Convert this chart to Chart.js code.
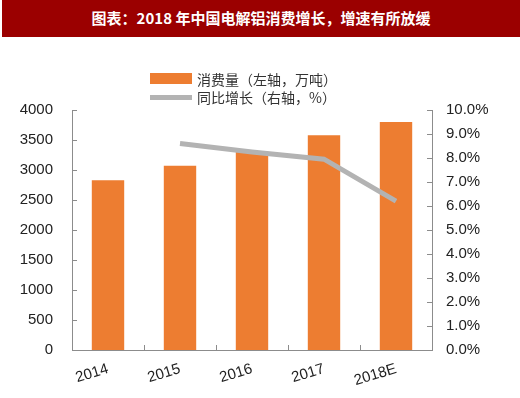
<!DOCTYPE html>
<html>
<head>
<meta charset="utf-8">
<style>
  body { margin: 0; background: #fff; }
  #wrap { position: relative; width: 520px; height: 398px; overflow: hidden; }
  #title {
    position: absolute; left: 2px; top: 0; width: 518px; height: 37px;
    background: #9b0000; color: #fff; text-align: center;
    font: bold 15px "Noto Sans CJK SC", sans-serif; line-height: 35px;
  }
  .leg { position: absolute; left: 150px; font: 14px "Noto Sans CJK SC", sans-serif; color: #333; }
  .leg span { position: absolute; left: 47px; top: -10px; white-space: nowrap; line-height: 20px; }
  #leg1 { top: 79px; }
  #leg1 i { position: absolute; left: 0; top: -6px; width: 42px; height: 11px; background: #ed7d31; }
  #leg2 { top: 97px; }
  #leg2 i { position: absolute; left: 0; top: -2px; width: 42px; height: 5px; background: #b3b3b3; }
  canvas { position: absolute; left: 0; top: 0; }
</style>
</head>
<body>
<div id="wrap">
  <canvas id="chart" width="520" height="398"></canvas>
  <div id="title">图表：2018 年中国电解铝消费增长，增速有所放缓</div>
  <div class="leg" id="leg1"><i></i><span>消费量（左轴，万吨）</span></div>
  <div class="leg" id="leg2"><i></i><span>同比增长（右轴，%）</span></div>
</div>

<script src="https://cdn.jsdelivr.net/npm/chart.js"></script>

<script>
  const years = ['2014', '2015', '2016', '2017', '2018E']
  const consumption = [2830, 3070, 3310, 3580, 3800]   // 万吨
  const growth = [null, 8.6, 8.25, 7.95, 6.2]           // %

  const axisColor = '#8c8c8c'
  const tickFont = { family: 'Liberation Sans', size: 15 }

  // short tick marks pointing into the plot, like the original
  const innerTicks = {
    id: 'innerTicks',
    afterDraw(chart) {
      const c = chart.ctx
      const area = chart.chartArea
      const yl = chart.scales.y
      const yr = chart.scales.y2
      const x = chart.scales.x
      c.save()
      c.strokeStyle = axisColor
      c.lineWidth = 1
      c.beginPath()
      yl.ticks.forEach(t => {
        const p = Math.round(yl.getPixelForValue(t.value)) + 0.5
        c.moveTo(area.left, p); c.lineTo(area.left + 5, p)
      })
      yr.ticks.forEach(t => {
        const p = Math.round(yr.getPixelForValue(t.value)) + 0.5
        c.moveTo(area.right - 5, p); c.lineTo(area.right, p)
      })
      for (let i = 1; i < years.length; i++) {
        const p = Math.round((x.getPixelForValue(i - 1) + x.getPixelForValue(i)) / 2) + 0.5
        c.moveTo(p, area.bottom); c.lineTo(p, area.bottom - 5)
      }
      c.stroke()
      c.restore()
    }
  }

  new Chart(document.getElementById('chart'), {
    data: {
      labels: years,
      datasets: [
        {
          type: 'line',
          label: '同比增长（右轴，%）',
          data: growth,
          yAxisID: 'y2',
          borderColor: '#b3b3b3',
          borderWidth: 5,
          pointRadius: 0,
          tension: 0,
          order: 0
        },
        {
          type: 'bar',
          label: '消费量（左轴，万吨）',
          data: consumption,
          yAxisID: 'y',
          backgroundColor: '#ed7d31',
          barPercentage: 0.45,
          categoryPercentage: 1,
          order: 1
        }
      ]
    },
    options: {
      responsive: false,
      animation: false,
      layout: { padding: { top: 110, left: 0, right: 0, bottom: 0 } },
      plugins: { legend: { display: false }, tooltip: { enabled: false } },
      scales: {
        x: {
          grid: { display: false, drawTicks: false },
          border: { color: axisColor },
          ticks: { color: '#222', font: tickFont, minRotation: 17, maxRotation: 17, padding: 10 },
          afterFit: s => { s.height = 48 }
        },
        y: {
          position: 'left',
          min: 0, max: 4000,
          grid: { display: false, drawTicks: false },
          border: { color: axisColor },
          ticks: { stepSize: 500, color: '#222', font: tickFont, padding: 19,
                   callback: v => String(v) },
          afterFit: s => { s.width = 72 }
        },
        y2: {
          position: 'right',
          min: 0, max: 10,
          grid: { display: false, drawTicks: false },
          border: { color: axisColor },
          ticks: { stepSize: 1, color: '#222', font: tickFont, padding: 14,
                   callback: v => v.toFixed(1) + '%' },
          afterFit: s => { s.width = 88 }
        }
      }
    },
    plugins: [innerTicks]
  })
</script>
</body>
</html>
